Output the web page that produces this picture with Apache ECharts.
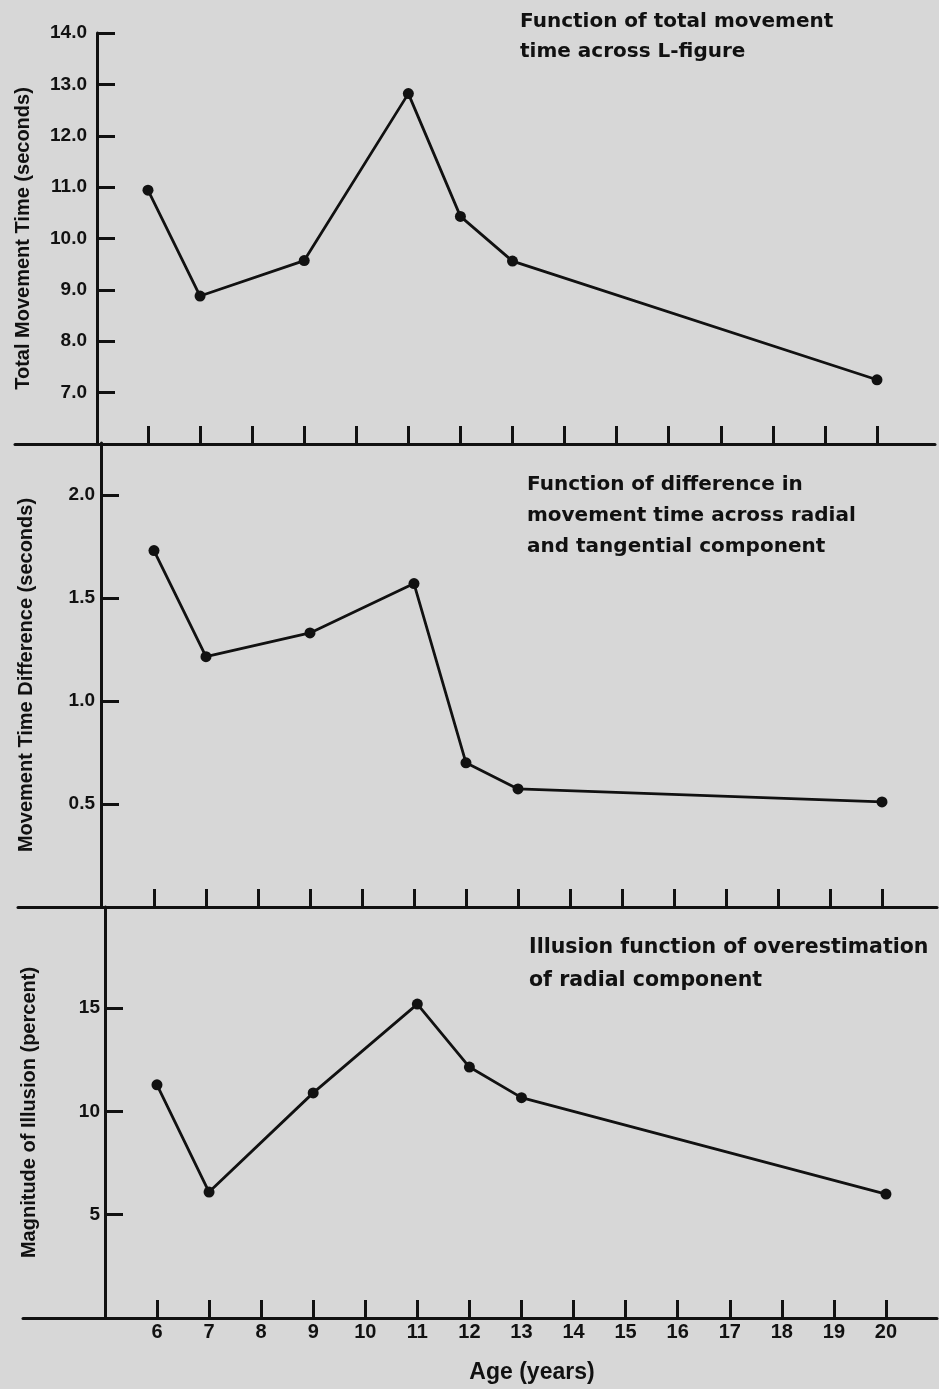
<!DOCTYPE html>
<html>
<head>
<meta charset="utf-8">
<script src="https://cdn.jsdelivr.net/npm/echarts@6/dist/echarts.min.js"></script>
<style>
html, body { margin: 0; padding: 0; background: #d7d7d7; }
#chart { width: 939px; height: 1389px; }
</style>
</head>
<body>
<div id="chart"></div>
<script>
// ---- data ----
const ages = [6, 7, 9, 11, 12, 13, 20];
const totalMovementTime = [10.94, 8.88, 9.57, 12.82, 10.43, 9.56, 7.25];
const movementTimeDifference = [1.73, 1.215, 1.33, 1.57, 0.70, 0.573, 0.51];
const illusionMagnitude = [11.29, 6.1, 10.9, 15.2, 12.15, 10.67, 6.0];

const ageTicks = [6, 7, 8, 9, 10, 11, 12, 13, 14, 15, 16, 17, 18, 19, 20];
const totalTimeTicks = [7, 8, 9, 10, 11, 12, 13, 14];
const differenceTicks = [0.5, 1.0, 1.5, 2.0];
const illusionTicks = [5, 10, 15];

const titles = [
  'Function of total movement\ntime across L-figure',
  'Function of difference in\nmovement time across radial\nand tangential component',
  'Illusion function of overestimation\nof radial component'
];
const yNames = [
  'Total Movement Time (seconds)',
  'Movement Time Difference (seconds)',
  'Magnitude of Illusion (percent)'
];
const xName = 'Age (years)';

// ---- styling ----
const INK = '#111111';
const LABEL_FONT = "'Liberation Sans', Arial, sans-serif";
const TITLE_FONT = "'DejaVu Sans', 'Liberation Sans', sans-serif";

function pairs(xs, ys) { return xs.map((x, i) => [x, ys[i]]); }

function xAxisCfg(grid, min, max, showLabels) {
  return {
    gridIndex: grid, type: 'value', min: min, max: max,
    axisLine: { show: true, onZero: false, lineStyle: { color: INK, width: 3 } },
    axisTick: { show: true, inside: true, length: 18, customValues: ageTicks, lineStyle: { color: INK, width: 3 } },
    axisLabel: {
      show: showLabels, customValues: ageTicks, margin: 4,
      color: INK, fontFamily: LABEL_FONT, fontWeight: 'bold', fontSize: 20
    },
    splitLine: { show: false }
  };
}

function yAxisCfg(grid, min, max, offset, ticks, fmt, margin, name, nameGap) {
  return {
    gridIndex: grid, type: 'value', min: min, max: max, offset: offset,
    axisLine: { show: true, onZero: false, lineStyle: { color: INK, width: 3 } },
    axisTick: { show: true, inside: true, length: 18, customValues: ticks, lineStyle: { color: INK, width: 3 } },
    axisLabel: {
      customValues: ticks, formatter: fmt, margin: margin,
      color: INK, fontFamily: LABEL_FONT, fontWeight: 'bold', fontSize: 19
    },
    splitLine: { show: false },
    name: name, nameLocation: 'middle', nameGap: nameGap,
    nameTextStyle: { color: INK, fontFamily: LABEL_FONT, fontWeight: 'bold', fontSize: 20 }
  };
}

function seriesCfg(idx, ys) {
  return {
    type: 'line', xAxisIndex: idx, yAxisIndex: idx,
    data: pairs(ages, ys),
    symbol: 'circle', symbolSize: 11,
    lineStyle: { color: INK, width: 2.8 },
    itemStyle: { color: INK },
    silent: true
  };
}

function titleCfg(text, left, top, lh, size) {
  return {
    text: text, left: left, top: top, padding: 0,
    textStyle: { color: INK, fontFamily: TITLE_FONT, fontWeight: 'bold', fontSize: size, lineHeight: lh }
  };
}

const chart = echarts.init(document.getElementById('chart'), null, { renderer: 'canvas' });
chart.setOption({
  backgroundColor: '#d7d7d7',
  animation: false,
  title: [
    titleCfg(titles[0], 520, 7, 30, 20),
    titleCfg(titles[1], 527, 469, 31, 20),
    titleCfg(titles[2], 529, 931, 33, 20.5)
  ],
  grid: [
    { left: 15, right: 4, top: 33, height: 411 },
    { left: 18, right: 2, top: 443, height: 464 },
    { left: 23, right: 2, top: 907, height: 411 }
  ],
  xAxis: [
    xAxisCfg(0, 3.446, 21.114, false),
    xAxisCfg(1, 3.385, 21.058, false),
    xAxisCfg(2, 3.427, 20.98, true)
  ],
  yAxis: [
    yAxisCfg(0, 6, 14, -82, totalTimeTicks, v => v.toFixed(1), 10, yNames[0], 64),
    yAxisCfg(1, 0, 2.252, -83, differenceTicks, v => v.toFixed(1), 6, yNames[1], 65),
    yAxisCfg(2, 0, 19.9, -82, illusionTicks, v => String(v), 5, yNames[2], 66)
  ],
  graphic: [{
    type: 'text', x: 532, y: 1373,
    style: {
      text: xName, textAlign: 'center', textVerticalAlign: 'middle',
      fill: INK, font: "bold 23px 'Liberation Sans', Arial, sans-serif"
    }
  }],
  series: [
    seriesCfg(0, totalMovementTime),
    seriesCfg(1, movementTimeDifference),
    seriesCfg(2, illusionMagnitude)
  ]
});
</script>
</body>
</html>
